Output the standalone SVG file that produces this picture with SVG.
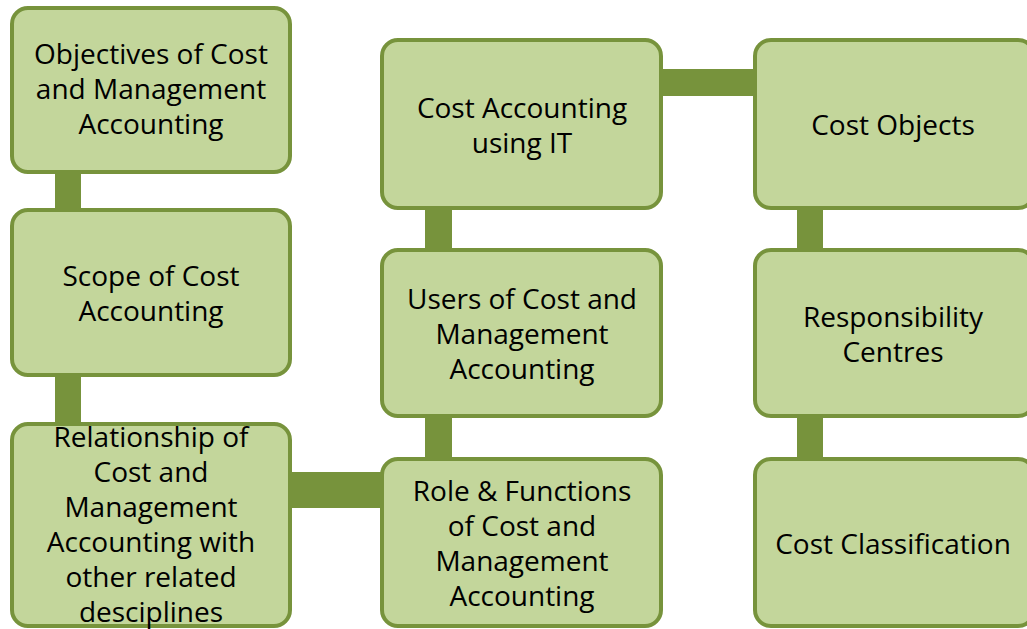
<svg xmlns="http://www.w3.org/2000/svg" width="1027" height="629" viewBox="0 0 1027 629">
<style>
.box{fill:#c3d69b;stroke:#77933c;stroke-width:4}
.con{fill:#77933c}
text{font-family:"Open Sans","Noto Sans",sans-serif;font-size:28px;fill:#000;text-anchor:middle}
</style>
<rect width="1027" height="629" fill="#fff"/>
<g id="connectors">
<rect class="con" x="55" y="170" width="26" height="44"/>
<rect class="con" x="55" y="373" width="26" height="55"/>
<rect class="con" x="288" y="472" width="98" height="36"/>
<rect class="con" x="425" y="206" width="27" height="48"/>
<rect class="con" x="425" y="414" width="27" height="49"/>
<rect class="con" x="659" y="69" width="100" height="27"/>
<rect class="con" x="797" y="206" width="26" height="48"/>
<rect class="con" x="797" y="414" width="26" height="49"/>
</g>
<g id="n1"><rect class="box" x="12" y="8" width="278" height="164" rx="16"/>
<text x="151" y="64">Objectives of Cost</text><text x="151" y="99">and Management</text><text x="151" y="134">Accounting</text></g>
<g id="n2"><rect class="box" x="12" y="210" width="278" height="165" rx="16"/>
<text x="151" y="286">Scope of Cost</text><text x="151" y="321">Accounting</text></g>
<g id="n3"><rect class="box" x="12" y="424" width="278" height="202" rx="16"/>
<text x="151" y="447">Relationship of</text><text x="151" y="482">Cost and</text><text x="151" y="517">Management</text><text x="151" y="552">Accounting with</text><text x="151" y="587">other related</text><text x="151" y="622">desciplines</text></g>
<g id="n4"><rect class="box" x="382" y="40" width="279" height="168" rx="16"/>
<text x="522" y="118">Cost Accounting</text><text x="522" y="153">using IT</text></g>
<g id="n5"><rect class="box" x="382" y="250" width="279" height="166" rx="16"/>
<text x="522" y="309">Users of Cost and</text><text x="522" y="344">Management</text><text x="522" y="379">Accounting</text></g>
<g id="n6"><rect class="box" x="382" y="459" width="279" height="167" rx="16"/>
<text x="522" y="501">Role &amp; Functions</text><text x="522" y="536">of Cost and</text><text x="522" y="571">Management</text><text x="522" y="606">Accounting</text></g>
<g id="n7"><rect class="box" x="755" y="40" width="279" height="168" rx="16"/>
<text x="893" y="135">Cost Objects</text></g>
<g id="n8"><rect class="box" x="755" y="250" width="279" height="166" rx="16"/>
<text x="893" y="327">Responsibility</text><text x="893" y="362">Centres</text></g>
<g id="n9"><rect class="box" x="755" y="459" width="279" height="167" rx="16"/>
<text x="893" y="554">Cost Classification</text></g>
</svg>
